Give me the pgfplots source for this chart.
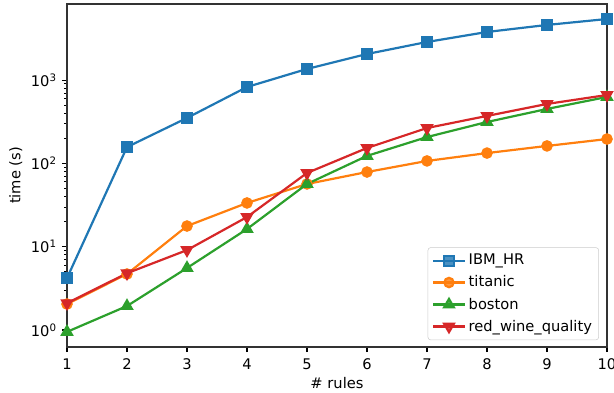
\documentclass[border=0pt]{standalone}
\usepackage{fontspec}
\setmainfont{DejaVu Sans}
\usepackage{pgfplots}
\pgfplotsset{compat=1.18}
\definecolor{c1}{HTML}{1F77B4}
\definecolor{c2}{HTML}{FF7F0E}
\definecolor{c3}{HTML}{2CA02C}
\definecolor{c4}{HTML}{D62728}
\begin{document}
\fontsize{11pt}{13pt}\selectfont
\begin{tikzpicture}
\begin{axis}[name=ax,
  scale only axis, width=405pt, height=257.25pt,
  xmin=1, xmax=10, ymode=log, ymin=0.625, ymax=8190,
  xtick={1,2,...,10},
  ytick={1,10,100,1000},
  yticklabels={10\textsuperscript{0},10\textsuperscript{1},10\textsuperscript{2},10\textsuperscript{3}},
  tick align=outside, xtick pos=left, ytick pos=left,
  major tick length=3.8pt, minor tick length=2.2pt,
  every tick/.style={black, line width=0.85pt},
  minor tick style={line width=0.6pt},
  axis line style={line width=0.85pt, black!80},
  /pgf/number format/assume math mode=true,
  ticklabel style={font=\fontsize{11pt}{13pt}\selectfont},
  xticklabel style={yshift=-1pt},
  xlabel={\# rules}, ylabel={time (s)},
  label style={font=\fontsize{11pt}{13pt}\selectfont},
  xlabel style={yshift=2pt},
  ylabel style={yshift=-1pt},
  legend cell align=left,
  legend style={at={(0.985,0.02)}, anchor=south east, draw=black!20, rounded corners=2pt, fill=white, fill opacity=0.8, text opacity=1, font=\fontsize{11pt}{13pt}\selectfont, row sep=2.5pt, inner sep=3pt},
  legend image code/.code={\draw[mark repeat=2,mark phase=2] plot coordinates {(0cm,0cm)(0.42cm,0cm)(0.84cm,0cm)};},
  every axis plot/.append style={line width=1.65pt, mark size=3.5pt, mark options={solid}},
]
\addplot[c1, mark=square*, mark size=3.7pt] coordinates {(1,4.2)(2,157)(3,351)(4,826)(5,1360)(6,2057)(7,2867)(8,3780)(9,4590)(10,5410)};
\addlegendentry{IBM\_HR}
\addplot[c2, mark=*] coordinates {(1,2.05)(2,4.7)(3,17.7)(4,33.5)(5,56.6)(6,78.8)(7,107)(8,133)(9,162)(10,196)};
\addlegendentry{titanic}
\addplot[c3, mark=triangle*, mark size=4.2pt] coordinates {(1,0.95)(2,1.94)(3,5.55)(4,16.3)(5,56.6)(6,123)(7,207)(8,314)(9,450)(10,627)};
\addlegendentry{boston}
\addplot[c4, mark=triangle*, mark size=4.2pt, mark options={rotate=180}] coordinates {(1,2.1)(2,4.8)(3,9.1)(4,22.7)(5,76.7)(6,153)(7,266)(8,371)(9,517)(10,662)};
\addlegendentry{red\_wine\_quality}
\end{axis}
\pgfresetboundingbox
\useasboundingbox ([xshift=-50.25pt,yshift=-33.75pt]ax.south west) rectangle ([xshift=5.25pt,yshift=3pt]ax.north east);
\end{tikzpicture}
\end{document}
